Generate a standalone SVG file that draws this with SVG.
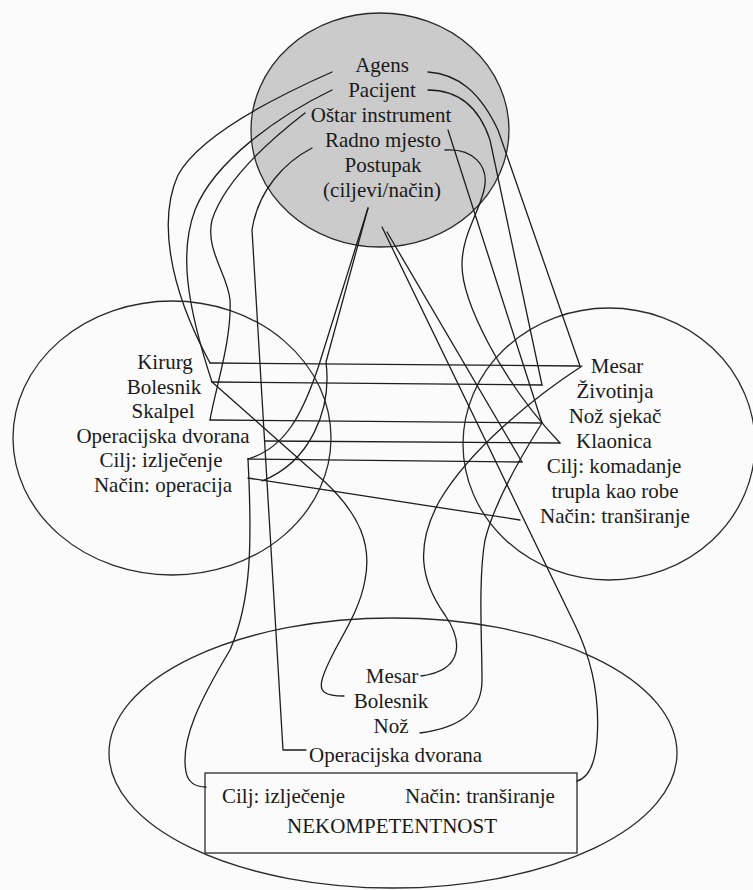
<svg xmlns="http://www.w3.org/2000/svg" width="753" height="890" viewBox="0 0 753 890">
<style>
  .bg{fill:#fbfbfb}
  .space{fill:none;stroke:#2a2a2a;stroke-width:1.3}
  .generic{fill:#cbcbcb;stroke:#2a2a2a;stroke-width:1.3}
  .ln{fill:none;stroke:#1e1e1e;stroke-width:1.3;stroke-linejoin:round;stroke-linecap:round}
  text{font-family:"Liberation Serif","Times New Roman",serif;font-size:21px;fill:#1a1a1a}
  .c{text-anchor:middle}
</style>
<rect class="bg" x="0" y="0" width="753" height="890"/>

<g id="generic-space">
  <ellipse class="generic" cx="380" cy="130" rx="129" ry="117"/>
  <text class="c" x="382" y="72">Agens</text>
  <text class="c" x="382" y="97">Pacijent</text>
  <text class="c" x="381" y="122">Oštar instrument</text>
  <text class="c" x="383" y="147">Radno mjesto</text>
  <text class="c" x="383" y="172">Postupak</text>
  <text class="c" x="382" y="197">(ciljevi/način)</text>
</g>

<g id="input-left">
  <ellipse class="space" cx="172" cy="438" rx="159" ry="137"/>
  <text class="c" x="165" y="369">Kirurg</text>
  <text class="c" x="164" y="393.5">Bolesnik</text>
  <text class="c" x="163" y="418">Skalpel</text>
  <text class="c" x="163" y="442.5">Operacijska dvorana</text>
  <text class="c" x="161" y="467">Cilj: izlječenje</text>
  <text class="c" x="163" y="491.5">Način: operacija</text>
</g>

<g id="input-right">
  <ellipse class="space" cx="609" cy="444" rx="146" ry="136"/>
  <text class="c" x="617" y="373">Mesar</text>
  <text class="c" x="615" y="398">Životinja</text>
  <text class="c" x="615" y="423">Nož sjekač</text>
  <text class="c" x="614" y="447.5">Klaonica</text>
  <text class="c" x="614" y="473">Cilj: komadanje</text>
  <text class="c" x="615" y="497.5">trupla kao robe</text>
  <text class="c" x="615" y="522.5">Način: tranširanje</text>
</g>

<g id="blend">
  <ellipse class="space" cx="393" cy="753" rx="284" ry="135"/>
  <text class="c" x="392" y="683">Mesar</text>
  <text class="c" x="391" y="708">Bolesnik</text>
  <text class="c" x="391" y="733">Nož</text>
  <text x="309" y="762">Operacijska dvorana</text>
  <rect class="space" x="205" y="773" width="372" height="80"/>
  <text x="222" y="803">Cilj: izlječenje</text>
  <text x="405" y="803">Način: tranširanje</text>
  <text class="c" x="392" y="833">NEKOMPETENTNOST</text>
</g>

<g id="connectors">
  <!-- generic to left input -->
  <path class="ln" d="M332,72 C280,95 200,135 178,175 C160,215 165,280 210,363"/>
  <path class="ln" d="M332,90 C280,115 215,160 195,210 C180,250 185,300 212,382"/>
  <path class="ln" d="M305,113 C270,140 225,180 212,220 C205,250 228,275 230,300 C232,340 215,390 210,420"/>
  <path class="ln" d="M312,148 C285,162 258,190 252,230 L283,750 L306,750"/>
  <path class="ln" d="M368,208 L318,368 C302,415 285,448 248,459"/>
  <path class="ln" d="M368,208 L326,362 C332,410 310,462 262,481"/>
  <!-- generic to right input -->
  <path class="ln" d="M428,72 C458,74 480,92 498,130 L580,366"/>
  <path class="ln" d="M428,90 C462,90 480,110 490,140 L542,385"/>
  <path class="ln" d="M448,130 L542,423"/>
  <path class="ln" d="M445,150 C472,148 490,165 484,190 C478,215 462,235 462,265 C462,300 500,380 560,443"/>
  <path class="ln" d="M387,232 L522,462"/>
  <path class="ln" d="M382,227 L575,625 C592,660 600,700 597,740 C595,765 588,778 577,781"/>
  <!-- cross-space mappings -->
  <path class="ln" d="M210,363 L580,366"/>
  <path class="ln" d="M212,382 L542,385"/>
  <path class="ln" d="M210,420 L542,423"/>
  <path class="ln" d="M265,441 L560,443"/>
  <path class="ln" d="M248,459 L522,462"/>
  <path class="ln" d="M248,478 L520,520"/>
  <!-- inputs to blend -->
  <path class="ln" d="M248,459 C252,540 252,600 230,650 C200,700 180,740 186,772 C188,782 195,787 206,787"/>
  <path class="ln" d="M212,382 L325,482 C360,515 372,545 365,580 C358,620 330,650 322,680 C319,692 325,696 344,696"/>
  <path class="ln" d="M582,366 C530,400 470,450 440,500 C415,545 420,580 445,615 C462,640 465,670 421,676"/>
  <path class="ln" d="M542,423 C525,450 495,500 485,540 C478,580 482,640 482,680 C482,712 460,728 420,733"/>
</g>
</svg>
